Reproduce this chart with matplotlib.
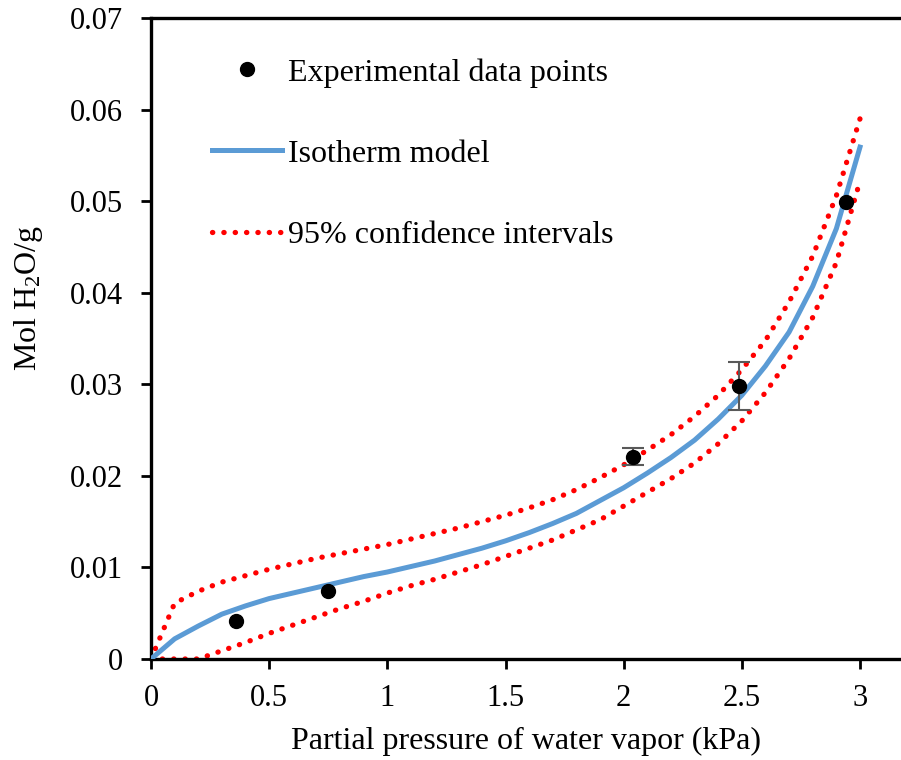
import matplotlib
matplotlib.use('Agg')
import matplotlib.pyplot as plt

plt.rcParams['font.family'] = ['Liberation Serif', 'DejaVu Serif']
plt.rcParams['mathtext.fontset'] = 'custom'
plt.rcParams['mathtext.rm'] = 'Liberation Serif'
plt.rcParams['mathtext.it'] = 'Liberation Serif:italic'

# experimental points (kPa, mol H2O/g) and their error bars
exp_p = [0.36, 0.75, 2.04, 2.49, 2.94]
exp_q = [0.0041, 0.0074, 0.0221, 0.0298, 0.0499]
exp_err = [0.0, 0.0, 0.0009, 0.0026, 0.0]

# model curve and 95% confidence bands
p_grid = [0.0, 0.1, 0.2, 0.3, 0.4, 0.5, 0.6, 0.7, 0.8, 0.9, 1.0,
          1.1, 1.2, 1.3, 1.4, 1.5, 1.6, 1.7, 1.8, 1.9, 2.0,
          2.1, 2.2, 2.3, 2.4, 2.5, 2.6, 2.7, 2.8, 2.9, 3.0]
model_q = [0.0, 0.0022, 0.0036, 0.0049, 0.0058, 0.0066, 0.0072, 0.0078, 0.0084, 0.0090, 0.0095,
           0.0101, 0.0107, 0.0114, 0.0121, 0.0129, 0.0138, 0.0148, 0.0159, 0.0173, 0.0187,
           0.0203, 0.0220, 0.0239, 0.0262, 0.0288, 0.0320, 0.0357, 0.0407, 0.0470, 0.0559]
upper_q = [0.0, 0.0061, 0.0074, 0.0084, 0.0091, 0.0098, 0.0104, 0.0110, 0.0115, 0.0120, 0.0125,
           0.0131, 0.0137, 0.0143, 0.0150, 0.0157, 0.0165, 0.0174, 0.0185, 0.0198, 0.0212,
           0.0228, 0.0245, 0.0265, 0.0288, 0.0316, 0.0348, 0.0390, 0.0440, 0.0506, 0.0590]
lower_q = [0.0, 0.0, 0.0, 0.0009, 0.0018, 0.0028, 0.0037, 0.0046, 0.0055, 0.0063, 0.0072,
           0.0080, 0.0087, 0.0095, 0.0103, 0.0112, 0.0121, 0.0130, 0.0141, 0.0152, 0.0167,
           0.0182, 0.0197, 0.0214, 0.0235, 0.0260, 0.0291, 0.0328, 0.0373, 0.0433, 0.0522]

x_ticks = [0, 0.5, 1, 1.5, 2, 2.5, 3]
x_labels = ['0', '0.5', '1', '1.5', '2', '2.5', '3']
y_ticks = [0, 0.01, 0.02, 0.03, 0.04, 0.05, 0.06, 0.07]
y_labels = ['0', '0.01', '0.02', '0.03', '0.04', '0.05', '0.06', '0.07']

fig = plt.figure(figsize=(9.01, 7.6), dpi=100)
ax = fig.add_axes([151 / 901, 1 - 659 / 760, 750 / 901, 641 / 760])

ax.plot(p_grid, upper_q, color='#FF0000', lw=3.8, ls=(0, (0.05, 2.1)),
        dash_capstyle='round', label='95% confidence intervals', zorder=2)
ax.plot(p_grid, lower_q, color='#FF0000', lw=3.8, ls=(0, (0.05, 2.1)),
        dash_capstyle='round', zorder=2)
ax.plot(p_grid, model_q, color='#5B9BD5', lw=3.6, label='Isotherm model', zorder=3)

# only points that carry an error bar
eb = [i for i, e in enumerate(exp_err) if e > 0]
ax.errorbar([exp_p[i] for i in eb], [exp_q[i] for i in eb], yerr=[exp_err[i] for i in eb],
            fmt='none', ecolor='#595959', elinewidth=1.5, capsize=8, capthick=1.5, zorder=4)
ax.plot(exp_p, exp_q, 'o', color='black', ms=10, label='Experimental data points',
        zorder=5, clip_on=False)

ax.set_xlim(0, 750 / (709 / 3))
ax.set_ylim(0, 0.07)
ax.set_xticks(x_ticks)
ax.set_xticklabels(x_labels)
ax.set_yticks(y_ticks)
ax.set_yticklabels(y_labels)
ax.tick_params(direction='out', length=7.2, width=2, labelsize=22)
ax.tick_params(axis='x', pad=11)
ax.tick_params(axis='y', pad=13)

for side in ['left', 'bottom', 'top']:
    ax.spines[side].set_linewidth(2.4)
ax.spines['right'].set_visible(False)

ax.set_xlabel('Partial pressure of water vapor (kPa)', fontsize=23, labelpad=10)
ax.set_ylabel(r'Mol H$_\mathregular{2}$O/g', fontsize=23, labelpad=18, y=0.563)

handles, labels = ax.get_legend_handles_labels()
order = [2, 1, 0]
ax.legend([handles[i] for i in order], [labels[i] for i in order],
          loc='upper left', bbox_to_anchor=(212 / 901, 1 - 58 / 760),
          bbox_transform=fig.transFigure, frameon=False, fontsize=23,
          handlelength=2.19, handletextpad=0.19, labelspacing=1.62,
          borderpad=0, borderaxespad=0, numpoints=1)

fig.savefig('out.png', dpi=100)
